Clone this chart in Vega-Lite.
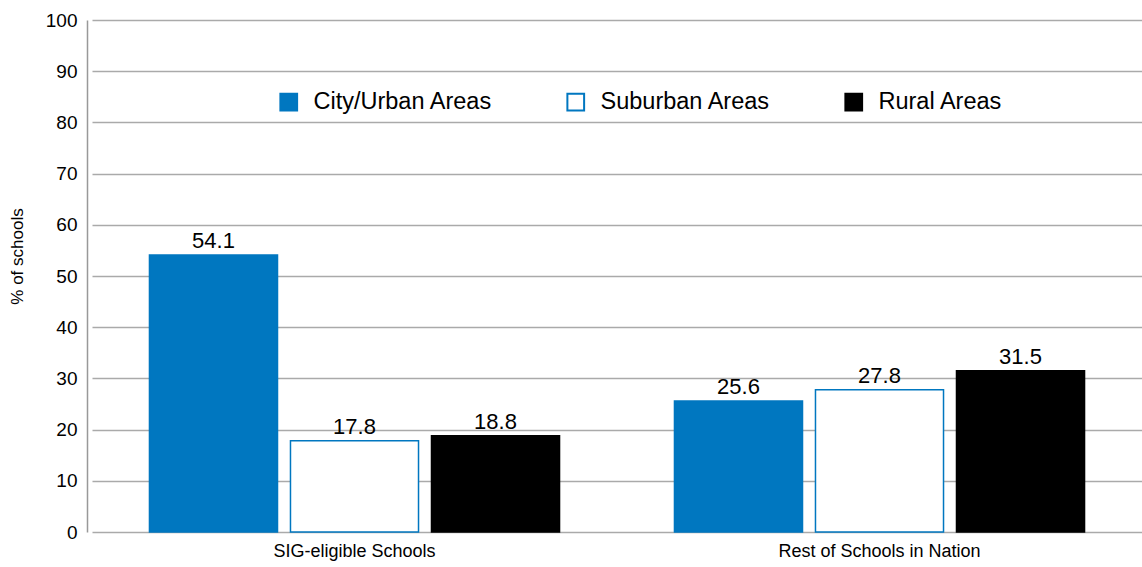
{
  "$schema": "https://vega.github.io/schema/vega-lite/v6.json",
  "width": 1055,
  "height": 512,
  "autosize": {"type": "none"},
  "padding": {"left": 87, "top": 20, "right": 0, "bottom": 35},
  "background": "white",
  "config": {
    "font": "Liberation Sans",
    "view": {"stroke": null}
  },
  "data": {
    "values": [
      {"group": "SIG-eligible Schools", "area": "City/Urban Areas", "value": 54.1},
      {"group": "SIG-eligible Schools", "area": "Suburban Areas", "value": 17.8},
      {"group": "SIG-eligible Schools", "area": "Rural Areas", "value": 18.8},
      {"group": "Rest of Schools in Nation", "area": "City/Urban Areas", "value": 25.6},
      {"group": "Rest of Schools in Nation", "area": "Suburban Areas", "value": 27.8},
      {"group": "Rest of Schools in Nation", "area": "Rural Areas", "value": 31.5}
    ]
  },
  "encoding": {
    "x": {
      "field": "group",
      "type": "nominal",
      "sort": ["SIG-eligible Schools", "Rest of Schools in Nation"],
      "scale": {"paddingInner": 0, "paddingOuter": 0, "range": [5, 1055]},
      "axis": {
        "title": null,
        "labelAngle": 0,
        "ticks": false,
        "domain": false,
        "labelPadding": 10,
        "labelFontSize": 18,
        "labelLimit": 0,
        "labelColor": "#000000",
        "labelFont": "Liberation Sans"
      }
    },
    "xOffset": {
      "field": "area",
      "type": "nominal",
      "sort": ["City/Urban Areas", "Suburban Areas", "Rural Areas"],
      "scale": {"paddingInner": 0.092, "paddingOuter": 0.4075}
    },
    "y": {
      "field": "value",
      "type": "quantitative",
      "scale": {"domain": [0, 100], "nice": false},
      "axis": {
        "title": "% of schools",
        "titleFontSize": 17,
        "titleFontWeight": "normal",
        "titleColor": "#000000",
        "titleX": -70,
        "titleY": 236,
        "titleAngle": -90,
        "titleAlign": "center",
        "titleBaseline": "middle",
        "values": [0, 10, 20, 30, 40, 50, 60, 70, 80, 90, 100],
        "ticks": false,
        "labelPadding": 10,
        "labelFontSize": 19,
        "labelColor": "#000000",
        "grid": true,
        "gridColor": "#aaaaaa",
        "gridWidth": 1.5,
        "domainColor": "#999999",
        "domainWidth": 1.5
      }
    }
  },
  "layer": [
    {
      "mark": {"type": "bar", "strokeWidth": 1.5},
      "encoding": {
        "fill": {
          "field": "area",
          "type": "nominal",
          "scale": {
            "domain": ["City/Urban Areas", "Suburban Areas", "Rural Areas"],
            "range": ["#0077c0", "#ffffff", "#000000"]
          },
          "legend": {
            "title": null,
            "orient": "none",
            "direction": "horizontal",
            "legendX": 190,
            "legendY": 70,
            "symbolType": "square",
            "symbolSize": 280,
            "symbolStrokeWidth": 2,
            "symbolOpacity": 1,
            "labelFontSize": 23.5,
            "labelLimit": 0,
            "labelColor": "#000000",
            "labelOffset": 13,
            "columnPadding": 70
          }
        },
        "stroke": {
          "field": "area",
          "type": "nominal",
          "scale": {
            "domain": ["City/Urban Areas", "Suburban Areas", "Rural Areas"],
            "range": ["#0077c0", "#0077c0", "#000000"]
          },
          "legend": {
            "title": null,
            "orient": "none",
            "direction": "horizontal",
            "legendX": 190,
            "legendY": 70,
            "symbolType": "square",
            "symbolSize": 280,
            "symbolStrokeWidth": 2,
            "symbolOpacity": 1,
            "labelFontSize": 23.5,
            "labelLimit": 0,
            "labelColor": "#000000",
            "labelOffset": 13,
            "columnPadding": 70
          }
        }
      }
    },
    {
      "mark": {"type": "text", "baseline": "alphabetic", "dy": -7, "fontSize": 22, "color": "#000000"},
      "encoding": {
        "text": {"field": "value", "type": "quantitative", "format": ".1f"}
      }
    }
  ]
}
